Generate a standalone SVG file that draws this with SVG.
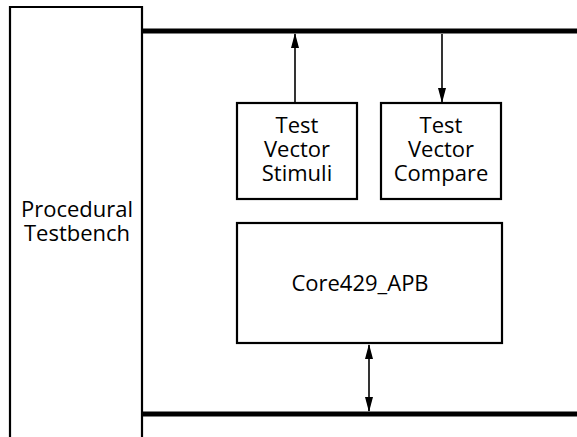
<svg xmlns="http://www.w3.org/2000/svg" width="577" height="437" viewBox="0 0 577 437">
<style>
.box{fill:#fff;stroke:#000;stroke-width:2.2}
.bus{stroke:#000;stroke-width:5;fill:none}
.wire{stroke:#000;stroke-width:1.6;fill:none}
text{font-family:"Open Sans","DejaVu Sans",sans-serif;font-size:22px;fill:#000;text-anchor:middle}
</style>
<defs>
<marker id="ah" markerWidth="15" markerHeight="8" refX="14" refY="4" orient="auto" markerUnits="userSpaceOnUse" viewBox="0 0 15 8">
<path d="M0,0 L15,4 L0,8 Z" fill="#000"/>
</marker>
<marker id="ahs" markerWidth="15" markerHeight="8" refX="14" refY="4" orient="auto-start-reverse" markerUnits="userSpaceOnUse" viewBox="0 0 15 8">
<path d="M0,0 L15,4 L0,8 Z" fill="#000"/>
</marker>
</defs>
<g id="procedural-testbench">
<path class="box" d="M10,440 V7 H142 V440"/>
<text x="77" y="217">Procedural</text>
<text x="77" y="241">Testbench</text>
</g>
<g id="buses">
<line class="bus" x1="142" y1="31" x2="577" y2="31"/>
<line class="bus" x1="142" y1="414" x2="577" y2="414"/>
</g>
<g id="stimuli">
<rect class="box" x="237" y="103" width="120" height="96"/>
<text x="297" y="133">Test</text>
<text x="297" y="157">Vector</text>
<text x="297" y="181">Stimuli</text>
</g>
<g id="compare">
<rect class="box" x="381" y="103" width="120" height="96"/>
<text x="441" y="133">Test</text>
<text x="441" y="157">Vector</text>
<text x="441" y="181">Compare</text>
</g>
<g id="core">
<rect class="box" x="237" y="223" width="265" height="120"/>
<text x="360" y="291">Core429_APB</text>
</g>
<g id="connectors">
<line class="wire" x1="295" y1="102" x2="295" y2="34" marker-end="url(#ah)"/>
<line class="wire" x1="442" y1="34" x2="442" y2="102" marker-end="url(#ah)"/>
<line class="wire" x1="369" y1="345" x2="369" y2="411" marker-start="url(#ahs)" marker-end="url(#ah)"/>
</g>
</svg>
